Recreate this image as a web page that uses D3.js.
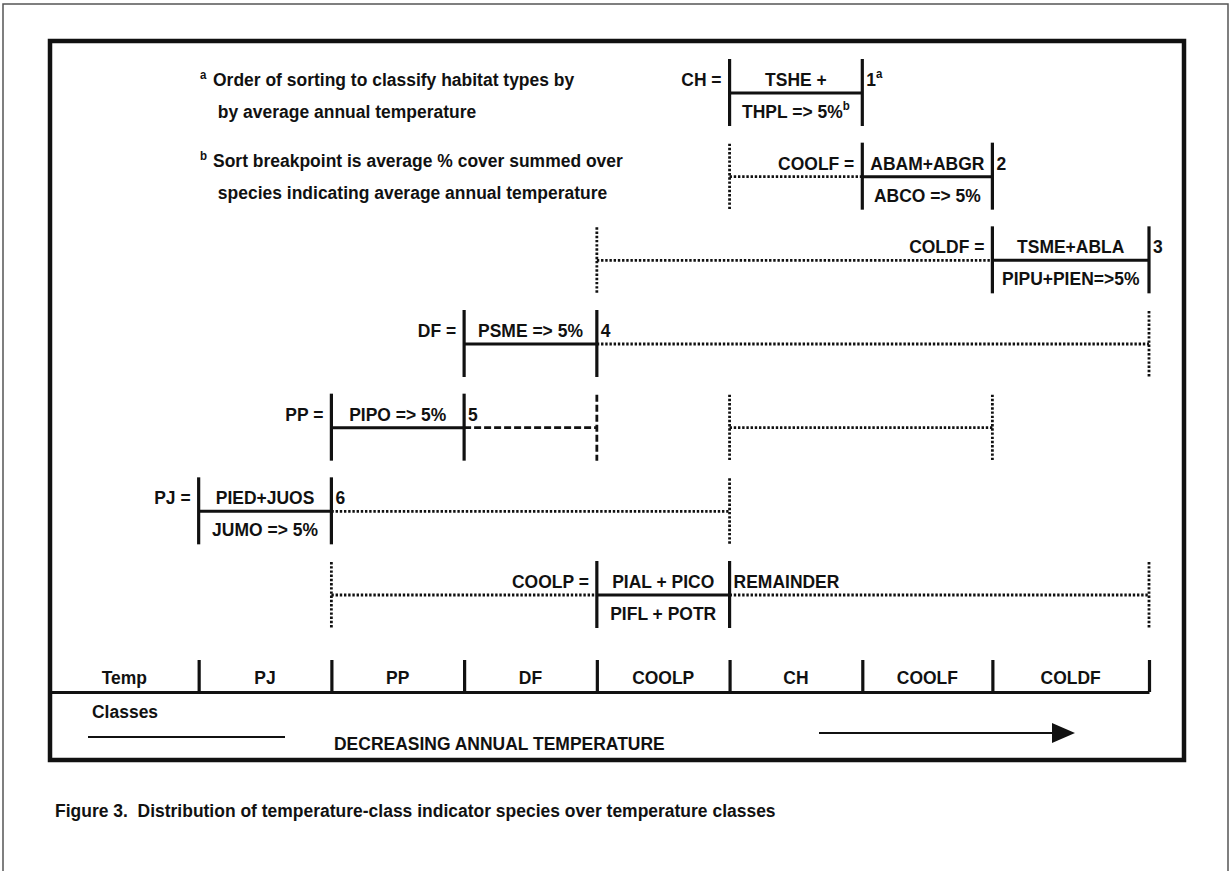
<!DOCTYPE html>
<html>
<head>
<meta charset="utf-8">
<script src="https://cdn.jsdelivr.net/npm/d3@7"></script>
<style>
  body { margin: 0; background: #fff; }
  text { font-family: "Liberation Sans", Arial, Helvetica, sans-serif; font-weight: bold; fill: #111; white-space: pre; }
</style>
</head>
<body>
<div id="my_dataviz"></div>
<script>
var width = 1231
var height = 871

// temperature classes, warm -> cold, with relative column widths
var classes = ["Temp", "PJ", "PP", "DF", "COOLP", "CH", "COOLF", "COLDF"]
var classSpan = [1.12, 1, 1, 1, 1, 1, 0.98, 1.18]

// indicator groups in sorting order
var groups = ["CH", "COOLF", "COLDF", "DF", "PP", "PJ", "COOLP"]
var upperSpecies = ["TSHE +", "ABAM+ABGR", "TSME+ABLA", "PSME => 5%", "PIPO => 5%", "PIED+JUOS", "PIAL + PICO"]
var lowerSpecies = ["THPL => 5%", "ABCO => 5%", "PIPU+PIEN=>5%", "", "", "JUMO => 5%", "PIFL + POTR"]
var lowerNote = ["b", "", "", "", "", "", ""]
var ranks = ["1", "2", "3", "4", "5", "6", "REMAINDER"]
var rankNote = ["a", "", "", "", "", "", ""]

// where the indicator species also occur: [from class, to class, line]
var spread = [
  [],
  [["CH", "CH", "dotted"]],
  [["COOLP", "COOLF", "dotted"]],
  [["COOLP", "COLDF", "dotted"]],
  [["DF", "DF", "dashed"], ["CH", "COOLF", "dotted"]],
  [["PP", "COOLP", "dotted"]],
  [["PP", "DF", "dotted"], ["CH", "COLDF", "dotted"]]
]

var footMarks = ["a", "b"]
var footLines = [
  ["Order of sorting to classify habitat types by", " by average annual temperature"],
  ["Sort breakpoint is average % cover summed over", " species indicating average annual temperature"]
]

var svg = d3.select("#my_dataviz")
  .append("svg")
    .attr("width", width)
    .attr("height", height)

// condensed bold text, like the original typeface
function label(sel, x, y, str, size, anchor) {
  return sel.append("text")
    .attr("transform", "translate(" + x + "," + y + ") scale(0.92,1)")
    .attr("text-anchor", anchor || "start")
    .style("font-size", (size || 19) + "px")
    .text(str)
}
function sup(t, str) {
  t.append("tspan").attr("dy", -8).style("font-size", "12.5px").text(str)
}

// page frame + figure box
svg.append("path")
  .attr("d", "M3," + height + "V4H1228V" + height)
  .attr("fill", "none").attr("stroke", "#555").attr("stroke-width", 1.5)
svg.append("rect")
  .attr("x", 50).attr("y", 41).attr("width", 1134).attr("height", 719)
  .attr("fill", "none").attr("stroke", "#111").attr("stroke-width", 4.5)

// x scale over cumulative column widths
var cum = [0]
classSpan.forEach(function(s, i) { cum.push(cum[i] + s) })
var x = d3.scaleLinear().domain([0, cum[cum.length - 1]]).range([50, 1149])
function left(c) { return x(cum[classes.indexOf(c)]) }
function right(c) { return x(cum[classes.indexOf(c) + 1]) }

var y = d3.scalePoint().domain(groups).range([93, 595])

// footnotes
footLines.forEach(function(lines, i) {
  var y0 = i == 0 ? 86 : 167
  label(svg, 200, y0 - 7, footMarks[i], 12.5)
  lines.forEach(function(t, j) {
    label(svg, 213, y0 + j * 32, t)
  })
})

var dash = { dotted: "2.4,1.8", dashed: "7,3" }

groups.forEach(function(g, i) {
  var L = y(g)
  var x0 = left(g), x1 = right(g)
  var row = svg.append("g")

  label(row, x0 - 8, L - 7, g + " =", 19, "end")

  // spread of the indicators into other classes
  spread[i].forEach(function(s) {
    var sx0 = left(s[0]), sx1 = right(s[1])
    var st = dash[s[2]]
    row.append("line").attr("x1", sx0).attr("x2", sx1).attr("y1", L).attr("y2", L)
      .attr("stroke", "#111").attr("stroke-width", 2.8).attr("stroke-dasharray", st)
    ;[sx0, sx1].forEach(function(v) {
      if (Math.abs(v - x0) < 1 || Math.abs(v - x1) < 1) return
      row.append("line").attr("x1", v).attr("x2", v).attr("y1", L - 33).attr("y2", L + 33)
        .attr("stroke", "#111").attr("stroke-width", 2.8).attr("stroke-dasharray", st)
    })
  })

  // solid box of the class itself
  row.append("line").attr("x1", x0).attr("x2", x1).attr("y1", L).attr("y2", L)
    .attr("stroke", "#111").attr("stroke-width", 3)
  ;[x0, x1].forEach(function(v) {
    row.append("line").attr("x1", v).attr("x2", v).attr("y1", L - 34).attr("y2", L + 33)
      .attr("stroke", "#111").attr("stroke-width", 3.2)
  })

  label(row, (x0 + x1) / 2, L - 7, upperSpecies[i], 19, "middle")
  if (lowerSpecies[i]) {
    var lt = label(row, (x0 + x1) / 2, L + 25, lowerSpecies[i], 19, "middle")
    if (lowerNote[i]) sup(lt, lowerNote[i])
  }

  var rt = label(row, x1 + 4, L - 7, ranks[i])
  if (rankNote[i]) sup(rt, rankNote[i])
})

// temperature class axis
var bounds = classes.map(function(c) { return x.invert(right(c)) })
var axis = svg.append("g")
  .attr("transform", "translate(0,692)")
  .call(d3.axisTop(x).tickValues(bounds).tickSize(32).tickSizeOuter(0).tickFormat(""))
axis.select(".domain").attr("stroke", "#111").attr("stroke-width", 2.8)
axis.selectAll(".tick line").attr("stroke", "#111").attr("stroke-width", 3.2)

classes.forEach(function(c) {
  label(svg, (left(c) + right(c)) / 2, 684, c, 19, "middle")
})

label(svg, 92, 718, "Classes")
svg.append("line").attr("x1", 88).attr("x2", 285).attr("y1", 737).attr("y2", 737)
  .attr("stroke", "#111").attr("stroke-width", 2)
label(svg, 334, 750, "DECREASING ANNUAL TEMPERATURE")
svg.append("line").attr("x1", 819).attr("x2", 1056).attr("y1", 733).attr("y2", 733)
  .attr("stroke", "#111").attr("stroke-width", 2)
svg.append("path").attr("d", "M1052,723L1075,733L1052,743Z").attr("fill", "#111")

label(svg, 55, 817, "Figure 3.  Distribution of temperature-class indicator species over temperature classes", 19)
</script>
</body>
</html>
